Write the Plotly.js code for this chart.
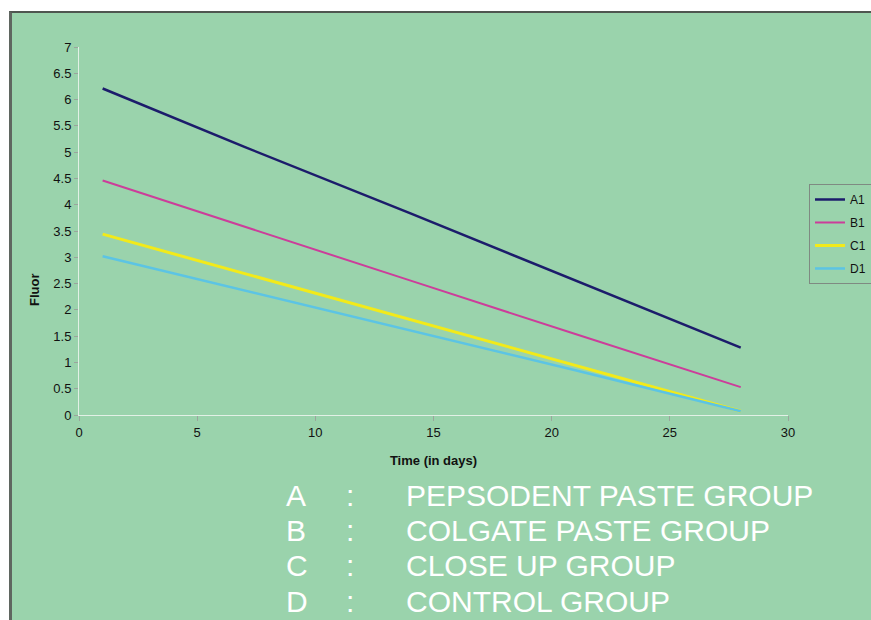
<!DOCTYPE html>
<html>
<head>
<meta charset="utf-8">
<script src="https://cdn.plot.ly/plotly-3.0.1.min.js"></script>
<style>
  html, body { margin: 0; padding: 0; background: #ffffff; width: 871px; height: 620px; overflow: hidden; }
  #chart { position: absolute; left: 9px; top: 11px; width: 880px; height: 607px;
           border-left: 3px solid #5f6660; border-top: 2px solid #4f5650; background: #9AD3AC; }
</style>
</head>
<body>
<div id="chart"></div>
<script>
// Data
var days = [1, 7, 14, 21, 28];
var seriesNames = ["A1", "B1", "C1", "D1"];
var a1 = [6.21, 5.10, 3.84, 2.56, 1.28];
var b1 = [4.46, 3.59, 2.56, 1.54, 0.53];
var c1 = [3.44, 2.69, 1.82, 0.95, 0.07];
var d1 = [3.02, 2.37, 1.62, 0.85, 0.07];
var xTickVals = [0, 5, 10, 15, 20, 25, 30];
var yTickVals = [0, 0.5, 1, 1.5, 2, 2.5, 3, 3.5, 4, 4.5, 5, 5.5, 6, 6.5, 7];
var groupLetters = ["A", "B", "C", "D"];
var groupNames = ["PEPSODENT PASTE GROUP", "COLGATE PASTE GROUP", "CLOSE UP GROUP", "CONTROL GROUP"];

var values = [a1, b1, c1, d1];
var colors = ["#1c1c6b", "#cc3d9a", "#f2ea1a", "#5cc4e4"];
var widths = [2.5, 2, 3, 2.5];

var traces = seriesNames.map(function (name, i) {
  return {
    x: days, y: values[i], name: name, type: "scatter", mode: "lines",
    line: { color: colors[i], width: widths[i] },
    legendgroup: name
  };
});

var green = "#9AD3AC";
var rowY = [-0.2174, -0.3139, -0.4103, -0.5068];
var annotations = [];
groupLetters.forEach(function (letter, i) {
  var f = { family: "Liberation Sans, Arial, sans-serif", size: 30, color: "#ffffff" };
  annotations.push({ xref: "paper", yref: "paper", x: 0.2892, y: rowY[i], xanchor: "left", yanchor: "middle", text: letter, showarrow: false, font: f });
  annotations.push({ xref: "paper", yref: "paper", x: 0.3822, y: rowY[i], xanchor: "center", yanchor: "middle", text: ":", showarrow: false, font: f });
  annotations.push({ xref: "paper", yref: "paper", x: 0.4584, y: rowY[i], xanchor: "left", yanchor: "middle", text: groupNames[i], showarrow: false, font: f });
});
annotations.push({ xref: "paper", yref: "paper", x: -0.062, y: 0.3397, xanchor: "center", yanchor: "middle",
  text: "<b>Fluor</b>", textangle: -90, showarrow: false,
  font: { family: "Liberation Sans, Arial, sans-serif", size: 13, color: "#111111" } });

var layout = {
  width: 859, height: 607,
  margin: { l: 67, r: 83, t: 34, b: 205, pad: 0 },
  paper_bgcolor: green, plot_bgcolor: green,
  font: { family: "Liberation Sans, Arial, sans-serif", size: 13, color: "#111111" },
  showlegend: true,
  legend: {
    xref: "container", yref: "container",
    x: 0.9278, y: 0.7183, xanchor: "left", yanchor: "top",
    bgcolor: green, bordercolor: "#7f8a82", borderwidth: 1,
    font: { size: 12, color: "#111111" },
    traceorder: "grouped", tracegroupgap: 4, itemwidth: 30
  },
  xaxis: {
    range: [0, 30], tickmode: "array", tickvals: xTickVals,
    showgrid: false, zeroline: false, showline: true, linecolor: "#e2f0e6", linewidth: 1,
    ticks: "outside", ticklen: 5, tickcolor: "#9aa59d",
    tickfont: { size: 13, color: "#111111" },
    title: { text: "<b>Time (in days)</b>", font: { size: 13, color: "#111111" }, standoff: 17 }
  },
  yaxis: {
    range: [0, 7], tickmode: "array", tickvals: yTickVals,
    showgrid: false, zeroline: false, showline: true, linecolor: "#e2f0e6", linewidth: 1,
    ticks: "outside", ticklen: 4, tickcolor: "#9aa59d",
    tickfont: { size: 13, color: "#111111" }
  },
  annotations: annotations
};

Plotly.newPlot("chart", traces, layout, { displayModeBar: false, staticPlot: true });
</script>
</body>
</html>
